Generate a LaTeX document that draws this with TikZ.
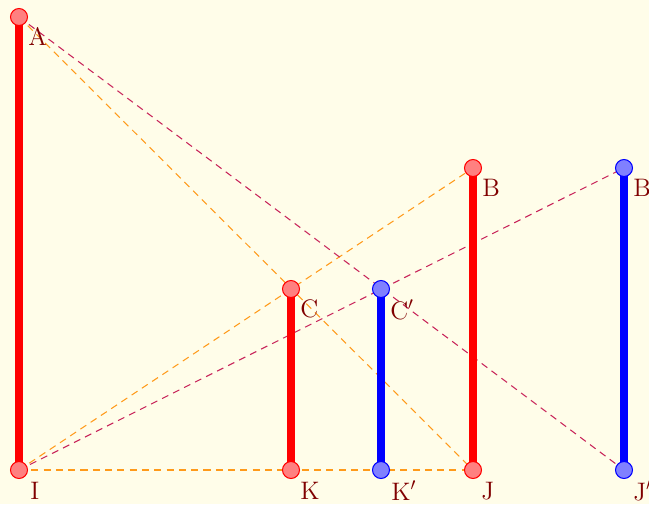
\documentclass[tikz,border=0pt]{standalone}
\usepackage{tikz}
\definecolor{bg}{HTML}{FFFDE9}
\definecolor{lab}{HTML}{800000}
\definecolor{org}{HTML}{FF9A1A}
\definecolor{crim}{HTML}{C8245A}
\tikzset{
  rdot/.style={circle,draw=red,fill=red!50!white,line width=0.6pt,minimum size=0.34cm,inner sep=0},
  bdot/.style={circle,draw=blue,fill=blue!50!white,line width=0.6pt,minimum size=0.34cm,inner sep=0},
  rbar/.style={red,line width=4.5pt},
  bbar/.style={blue,line width=4.5pt},
  odash/.style={org,line width=0.6pt,dash pattern=on 4pt off 3pt},
  cdash/.style={crim,line width=0.6pt,dash pattern=on 4pt off 3pt},
  lbl/.style={anchor=base west,inner sep=0,text=lab,font=\Large}
}
\begin{document}
\begin{tikzpicture}[x=0.02cm,y=-0.02cm]
\fill[bg] (0,0) rectangle (649,504);
\useasboundingbox (0,0) rectangle (649,504);
\coordinate (I) at (19,470);
\coordinate (A) at (19,17);
\coordinate (K) at (291,470);
\coordinate (C) at (291,289);
\coordinate (Kp) at (381,470);
\coordinate (Cp) at (381,289);
\coordinate (J) at (473,470);
\coordinate (B) at (473,168);
\coordinate (Jp) at (624,470);
\coordinate (Bp) at (624,168);
% dashed lines
\draw[odash] (A) -- (J);
\draw[odash] (I) -- (B);
\draw[odash] (I) -- (J);
\draw[cdash] (A) -- (Jp);
\draw[cdash] (I) -- (Bp);
% bars
\draw[rbar] (I) -- (A);
\draw[rbar] (K) -- (C);
\draw[bbar] (Kp) -- (Cp);
\draw[rbar] (J) -- (B);
\draw[bbar] (Jp) -- (Bp);
% dots
\foreach \p in {I,A,K,C,J,B} \node[rdot] (d\p) at (\p) {};
\foreach \p in {Kp,Cp,Jp,Bp} \node[bdot] (d\p) at (\p) {};
% labels
\node[lbl] (lA) at ([shift={(9,28)}]A) {A};
\node[lbl] (lB) at ([shift={(9,28)}]B) {B};
\node[lbl] (lC) at ([shift={(9,28)}]C) {C};
\node[lbl] (lCp) at ([shift={(9,30)}]Cp) {C$'$};
\node[lbl] (lI) at ([shift={(11,29)}]I) {I};
\node[lbl] (lK) at ([shift={(9,29)}]K) {K};
\node[lbl] (lKp) at ([shift={(10,30)}]Kp) {K$'$};
\node[lbl] (lJ) at ([shift={(8,29)}]J) {J};
\node[lbl] (lJp) at ([shift={(9,30)}]Jp) {J$'$};
\node[lbl] (lBp) at ([shift={(9,28)}]Bp) {B$'$};
\end{tikzpicture}
\end{document}
